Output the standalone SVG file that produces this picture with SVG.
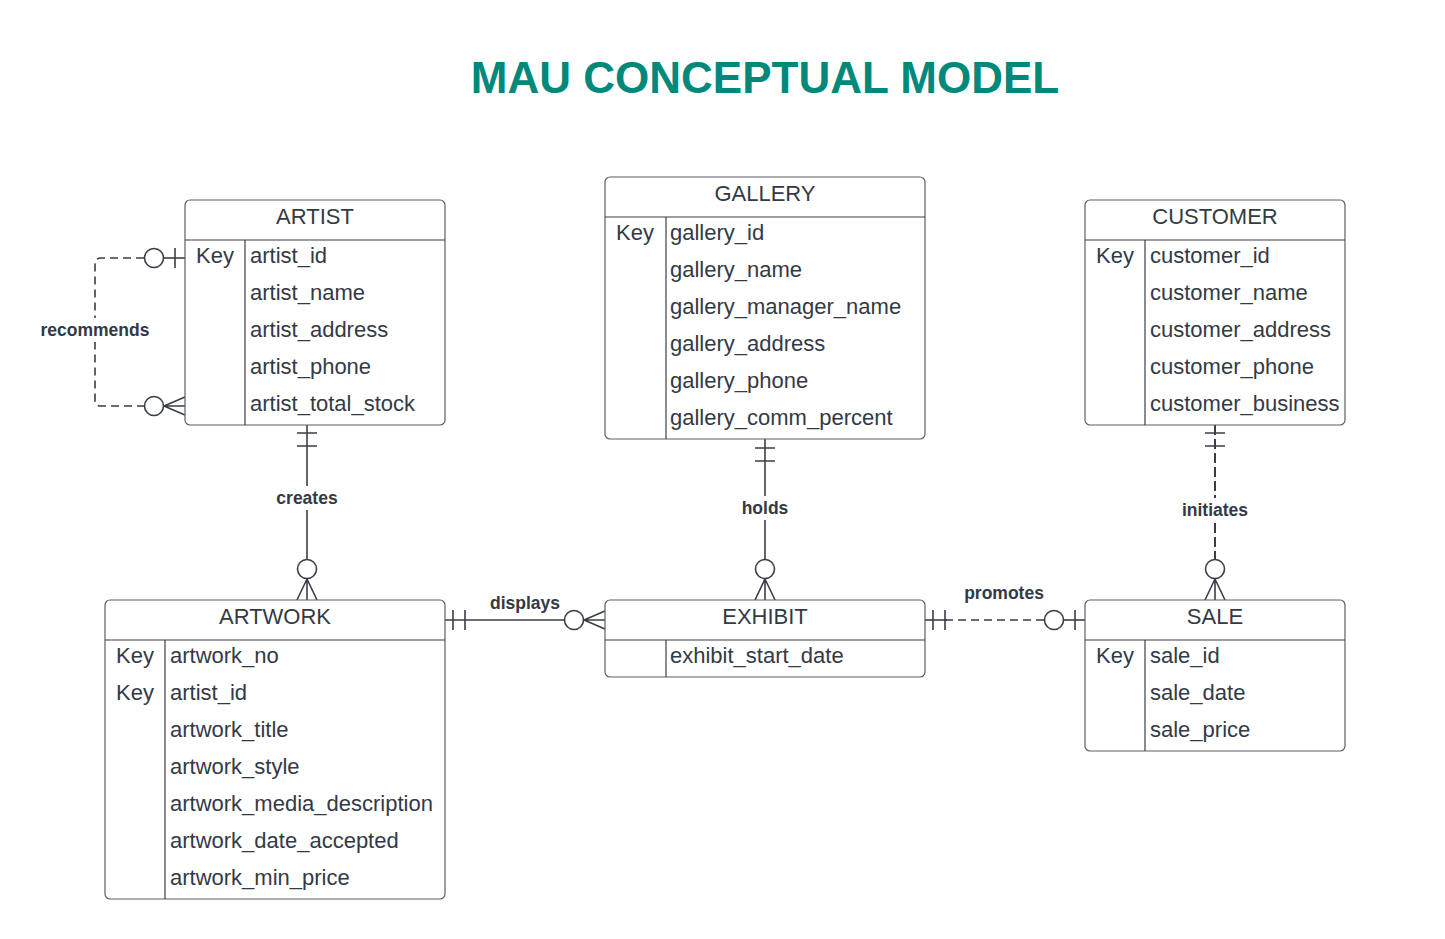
<svg xmlns="http://www.w3.org/2000/svg" width="1445" height="939" viewBox="0 0 1445 939">
<style>
.box{fill:#fff;stroke:#5a5f66;stroke-width:1.2}
.ln{stroke:#3a3f47;stroke-width:1.2;fill:none}
.t{font-family:"Liberation Sans",Arial,sans-serif;font-size:22px;fill:#333a45}
.h{font-family:"Liberation Sans",Arial,sans-serif;font-size:22px;fill:#333a45;text-anchor:middle}
.d{stroke:#3a3f47;stroke-width:1.6;fill:none;stroke-dasharray:8 5}
.dv{stroke:#3a3f47;stroke-width:2;fill:none;stroke-dasharray:10 4}
.s{stroke:#3a3f47;stroke-width:1.6;fill:none}
.o{stroke:#3a3f47;stroke-width:1.6;fill:#fff}
.lb{font-family:"Liberation Sans",Arial,sans-serif;font-size:17.5px;font-weight:bold;fill:#333a45;text-anchor:middle}
.title{font-family:"Liberation Sans",Arial,sans-serif;font-size:44px;font-weight:bold;fill:#00897b;text-anchor:middle}
</style>
<rect width="1445" height="939" fill="#fff"/>
<text class="title" x="765" y="93">MAU CONCEPTUAL MODEL</text>

<g id="connectors">
  <!-- recommends -->
  <path class="d" d="M144 258 H101 Q95 258 95 264 V400 Q95 406 101 406 H144"/>
  <line class="s" x1="164" y1="258" x2="185" y2="258"/>
  <line class="s" x1="175" y1="248" x2="175" y2="268"/>
  <circle class="o" cx="154" cy="258" r="9.5"/>
  <path class="s" d="M164 406 H185 M164 406 L185 397 M164 406 L185 415"/>
  <circle class="o" cx="154" cy="406" r="9.5"/>
  <rect x="36" y="318" width="118" height="24" fill="#fff"/>
  <text class="lb" x="95" y="336">recommends</text>

  <!-- creates -->
  <line class="s" x1="307" y1="425" x2="307" y2="560"/>
  <path class="s" d="M297 433 H317 M297 446 H317"/>
  <circle class="o" cx="307" cy="569" r="9.5"/>
  <path class="s" d="M307 579 V600 M307 579 L297 600 M307 579 L317 600"/>
  <rect x="270" y="486" width="74" height="24" fill="#fff"/>
  <text class="lb" x="307" y="504">creates</text>

  <!-- holds -->
  <line class="s" x1="765" y1="439" x2="765" y2="560"/>
  <path class="s" d="M755 448 H775 M755 461 H775"/>
  <circle class="o" cx="765" cy="569" r="9.5"/>
  <path class="s" d="M765 579 V600 M765 579 L755 600 M765 579 L775 600"/>
  <rect x="735" y="496" width="60" height="24" fill="#fff"/>
  <text class="lb" x="765" y="514">holds</text>

  <!-- initiates -->
  <line class="dv" x1="1215" y1="425" x2="1215" y2="560"/>
  <path class="s" d="M1205 433 H1225 M1205 446 H1225"/>
  <circle class="o" cx="1215" cy="569" r="9.5"/>
  <path class="s" d="M1215 579 V600 M1215 579 L1205 600 M1215 579 L1225 600"/>
  <rect x="1175" y="498" width="80" height="24" fill="#fff"/>
  <text class="lb" x="1215" y="516">initiates</text>

  <!-- displays -->
  <line class="s" x1="445" y1="620" x2="564" y2="620"/>
  <path class="s" d="M453 610 V630 M465 610 V630"/>
  <circle class="o" cx="574" cy="620" r="9.5"/>
  <path class="s" d="M584 620 H605 M584 620 L605 611 M584 620 L605 629"/>
  <text class="lb" x="525" y="609">displays</text>

  <!-- promotes -->
  <line class="d" x1="945" y1="620" x2="1044" y2="620"/>
  <line class="s" x1="925" y1="620" x2="947" y2="620"/>
  <path class="s" d="M933 610 V630 M945 610 V630"/>
  <circle class="o" cx="1054" cy="620" r="9.5"/>
  <line class="s" x1="1064" y1="620" x2="1085" y2="620"/>
  <line class="s" x1="1075" y1="610" x2="1075" y2="630"/>
  <text class="lb" x="1004" y="599">promotes</text>
</g>

<g id="artist">
  <rect class="box" x="185" y="200" width="260" height="225" rx="5"/>
  <line class="ln" x1="185" y1="240" x2="445" y2="240"/>
  <line class="ln" x1="245" y1="240" x2="245" y2="425"/>
  <text class="h" x="315" y="224">ARTIST</text>
  <text class="t" x="196" y="263">Key</text>
  <text class="t" x="250" y="263">artist_id</text>
  <text class="t" x="250" y="300">artist_name</text>
  <text class="t" x="250" y="337">artist_address</text>
  <text class="t" x="250" y="374">artist_phone</text>
  <text class="t" x="250" y="411">artist_total_stock</text>
</g>

<g id="gallery">
  <rect class="box" x="605" y="177" width="320" height="262" rx="5"/>
  <line class="ln" x1="605" y1="217" x2="925" y2="217"/>
  <line class="ln" x1="666" y1="217" x2="666" y2="439"/>
  <text class="h" x="765" y="201">GALLERY</text>
  <text class="t" x="616" y="240">Key</text>
  <text class="t" x="670" y="240">gallery_id</text>
  <text class="t" x="670" y="277">gallery_name</text>
  <text class="t" x="670" y="314">gallery_manager_name</text>
  <text class="t" x="670" y="351">gallery_address</text>
  <text class="t" x="670" y="388">gallery_phone</text>
  <text class="t" x="670" y="425">gallery_comm_percent</text>
</g>

<g id="customer">
  <rect class="box" x="1085" y="200" width="260" height="225" rx="5"/>
  <line class="ln" x1="1085" y1="240" x2="1345" y2="240"/>
  <line class="ln" x1="1145" y1="240" x2="1145" y2="425"/>
  <text class="h" x="1215" y="224">CUSTOMER</text>
  <text class="t" x="1096" y="263">Key</text>
  <text class="t" x="1150" y="263">customer_id</text>
  <text class="t" x="1150" y="300">customer_name</text>
  <text class="t" x="1150" y="337">customer_address</text>
  <text class="t" x="1150" y="374">customer_phone</text>
  <text class="t" x="1150" y="411">customer_business</text>
</g>

<g id="artwork">
  <rect class="box" x="105" y="600" width="340" height="299" rx="5"/>
  <line class="ln" x1="105" y1="640" x2="445" y2="640"/>
  <line class="ln" x1="165" y1="640" x2="165" y2="899"/>
  <text class="h" x="275" y="624">ARTWORK</text>
  <text class="t" x="116" y="663">Key</text>
  <text class="t" x="170" y="663">artwork_no</text>
  <text class="t" x="116" y="700">Key</text>
  <text class="t" x="170" y="700">artist_id</text>
  <text class="t" x="170" y="737">artwork_title</text>
  <text class="t" x="170" y="774">artwork_style</text>
  <text class="t" x="170" y="811">artwork_media_description</text>
  <text class="t" x="170" y="848">artwork_date_accepted</text>
  <text class="t" x="170" y="885">artwork_min_price</text>
</g>

<g id="exhibit">
  <rect class="box" x="605" y="600" width="320" height="77" rx="5"/>
  <line class="ln" x1="605" y1="640" x2="925" y2="640"/>
  <line class="ln" x1="666" y1="640" x2="666" y2="677"/>
  <text class="h" x="765" y="624">EXHIBIT</text>
  <text class="t" x="670" y="663">exhibit_start_date</text>
</g>

<g id="sale">
  <rect class="box" x="1085" y="600" width="260" height="151" rx="5"/>
  <line class="ln" x1="1085" y1="640" x2="1345" y2="640"/>
  <line class="ln" x1="1145" y1="640" x2="1145" y2="751"/>
  <text class="h" x="1215" y="624">SALE</text>
  <text class="t" x="1096" y="663">Key</text>
  <text class="t" x="1150" y="663">sale_id</text>
  <text class="t" x="1150" y="700">sale_date</text>
  <text class="t" x="1150" y="737">sale_price</text>
</g>
</svg>
